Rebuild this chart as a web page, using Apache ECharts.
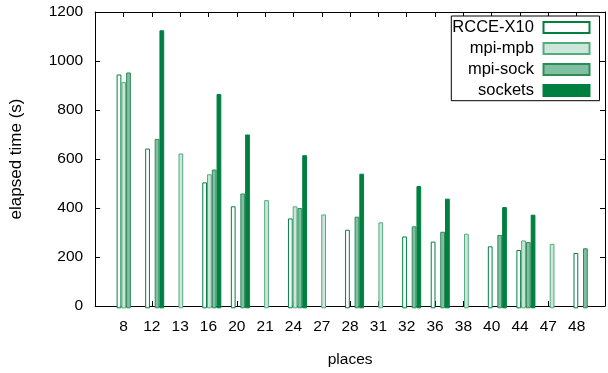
<!DOCTYPE html>
<html>
<head>
<meta charset="utf-8">
<script src="https://cdn.jsdelivr.net/npm/echarts@6/dist/echarts.min.js"></script>
<style>
html,body{margin:0;padding:0;background:#ffffff;}
#chart{width:608px;height:373px;}
</style>
</head>
<body>
<div id="chart"></div>
<script>
// ---- data (null = no bar drawn) ----
const categories = ['8','12','13','16','20','21','24','27','28','31','32','36','38','40','44','47','48'];
const rcceX10 = [947, 647, null, 510, 413, null, 364, null, 318, null, 291, 270, null, 251, 236, null, 224];
const mpiMpb  = [916, null, 627, 543, null, 438, 413, 380, null, 348, null, null, 302, null, 275, 261, null];
const mpiSock = [955, 686, null, 562, 465, null, 406, null, 371, null, 332, 310, null, 297, 268, null, 243];
const sockets = [null, 1126, null, 868, 704, null, 620, null, 545, null, 495, 444, null, 410, 379, null, null];
const yTickValues = [0, 200, 400, 600, 800, 1000, 1200];
const seriesNames = ['RCCE-X10', 'mpi-mpb', 'mpi-sock', 'sockets'];

// ---- layout ----
const FONT = 'Liberation Sans';
const W = 608;
const gridTop = 12, gridBottom = 64.7;
const frameLeft = 95.2, frameRight = 609.2;
const xMin = -1, xMax = categories.length;          // gnuplot-like x range
const unit = (frameRight - frameLeft) / (xMax - xMin);
const barW = unit / 6;                               // 4 bars + gap of 2
// bar group centre sits half a bar to the right of each tick
const barsLeft = frameLeft + unit * (0 - xMin) - unit / 2 + barW / 2;
const barsRight = W - (barsLeft + unit * categories.length);
const yMax = yTickValues[yTickValues.length - 1];
const yStep = yTickValues[1] - yTickValues[0];

const chart = echarts.init(document.getElementById('chart'), null, {renderer: 'canvas'});

const tickStyle = {show: true, inside: true, length: 5, lineStyle: {color: '#000', width: 1}};
const lineStyle = {show: true, onZero: false, lineStyle: {color: '#000', width: 1}};

function barSeries(name, data, fill, border) {
  return {
    type: 'bar', name: name, data: data,
    xAxisIndex: 2, yAxisIndex: 2,
    barGap: '0%', barCategoryGap: '33.333%',
    itemStyle: {color: fill, borderColor: border, borderWidth: 1},
    emphasis: {disabled: true},
    animation: false
  };
}

chart.setOption({
  animation: false,
  textStyle: {fontFamily: FONT},
  grid: [
    {left: frameLeft, right: W - frameRight, top: gridTop, bottom: gridBottom, containLabel: false},
    {left: barsLeft, right: barsRight, top: gridTop, bottom: gridBottom, containLabel: false}
  ],
  legend: {
    data: seriesNames,
    orient: 'vertical',
    align: 'right',
    right: 8.5, top: 16,
    icon: 'rect',
    itemWidth: 46, itemHeight: 11, itemGap: 4,
    padding: [3, 9, 1.7, 1],
    borderColor: '#000', borderWidth: 1,
    backgroundColor: '#fff',
    selectedMode: false,
    formatter: n => n + ' ',
    textStyle: {fontFamily: FONT, fontSize: 16.5, color: '#000'}
  },
  xAxis: [
    {
      gridIndex: 0, type: 'value', position: 'bottom',
      min: xMin, max: xMax, interval: 1,
      axisLine: lineStyle, axisTick: tickStyle,
      splitLine: {show: false},
      axisLabel: {
        margin: 13, color: '#000', fontFamily: FONT, fontSize: 15.5,
        showMinLabel: true, showMaxLabel: true,
        formatter: v => (categories[v] !== undefined ? categories[v] : '')
      },
      name: 'places', nameLocation: 'middle', nameGap: 46,
      nameTextStyle: {fontFamily: FONT, fontSize: 15.5, color: '#000'}
    },
    {
      gridIndex: 0, type: 'value', position: 'top',
      min: xMin, max: xMax, interval: 1,
      axisLine: lineStyle, axisTick: tickStyle,
      splitLine: {show: false}, axisLabel: {show: false}
    },
    {
      gridIndex: 1, type: 'category', data: categories, boundaryGap: true,
      show: false
    }
  ],
  yAxis: [
    {
      gridIndex: 0, type: 'value', position: 'left',
      min: 0, max: yMax, interval: yStep,
      axisLine: lineStyle, axisTick: tickStyle,
      splitLine: {show: false},
      axisLabel: {margin: 12, color: '#000', fontFamily: FONT, fontSize: 15.5,
                  formatter: v => String(v)},
      name: 'elapsed time (s)', nameLocation: 'middle', nameGap: 70,
      nameTextStyle: {fontFamily: FONT, fontSize: 17, color: '#000'}
    },
    {
      gridIndex: 0, type: 'value', position: 'right',
      min: 0, max: yMax, interval: yStep,
      axisLine: lineStyle, axisTick: tickStyle,
      splitLine: {show: false}, axisLabel: {show: false}
    },
    {
      gridIndex: 1, type: 'value', min: 0, max: yMax, show: false,
      splitLine: {show: false}
    }
  ],
  series: [
    barSeries(seriesNames[0], rcceX10, '#ffffff', '#008040'),
    barSeries(seriesNames[1], mpiMpb, '#cce6d9', '#55ab80'),
    barSeries(seriesNames[2], mpiSock, '#80c0a0', '#2e8b5a'),
    barSeries(seriesNames[3], sockets, '#008040', '#008040')
  ]
});
</script>
</body>
</html>
